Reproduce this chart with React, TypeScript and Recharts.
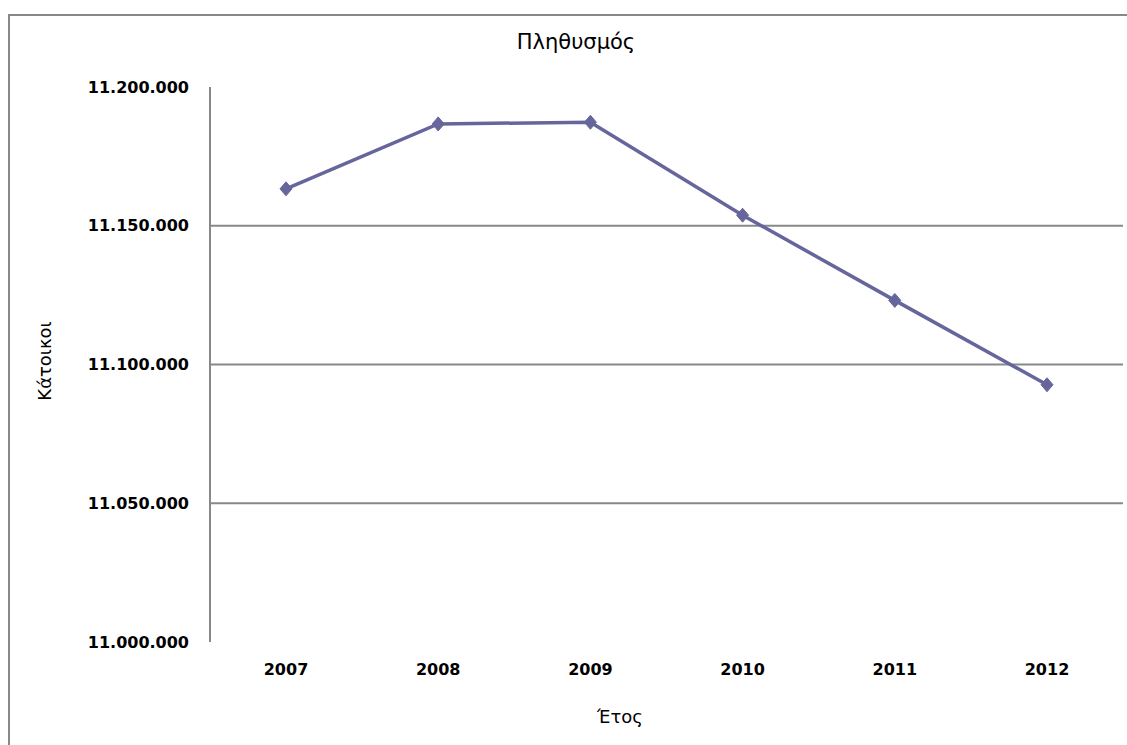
import { CartesianGrid, Line, LineChart, XAxis, YAxis } from "recharts";

const years = ["2007", "2008", "2009", "2010", "2011", "2012"];
const population = [11163300, 11186700, 11187300, 11153800, 11123100, 11092700];
const yTicks = [11000000, 11050000, 11100000, 11150000, 11200000];

const data = years.map((year, i) => ({ year, value: population[i] }));

const LINE = "#66669c";
const GRID = "#888888";
const FONT = "'DejaVu Sans', sans-serif";

const fmt = (v: number) => v.toLocaleString("de-DE");

function Diamond(props: any) {
  const { cx, cy } = props;
  if (cx == null || cy == null) return null;
  return (
    <polygon
      points={`${cx},${cy - 7} ${cx + 6},${cy} ${cx},${cy + 7} ${cx - 6},${cy}`}
      fill={LINE}
      stroke={LINE}
      strokeWidth={1}
    />
  );
}

export default function App() {
  return (
    <div style={{ position: "relative", width: 1127, height: 745, overflow: "hidden", background: "#fff" }}>
      <style>{"html,body{margin:0;overflow:hidden}"}</style>
      <div
        style={{
          position: "absolute",
          left: 8,
          top: 14,
          width: 1200,
          height: 800,
          borderTop: `2px solid ${GRID}`,
          borderLeft: `2px solid ${GRID}`,
        }}
      />
      <div
        style={{
          position: "absolute",
          left: 0,
          width: 1152,
          top: 30,
          textAlign: "center",
          fontFamily: FONT,
          fontSize: 21,
          color: "#000",
        }}
      >
        Πληθυσμός
      </div>
      <div
        style={{
          position: "absolute",
          left: 44,
          top: 361,
          transform: "translate(-50%, -50%) rotate(-90deg)",
          fontFamily: FONT,
          fontSize: 18,
          whiteSpace: "nowrap",
        }}
      >
        Κάτοικοι
      </div>
      <div
        style={{
          position: "absolute",
          left: 620,
          top: 716,
          transform: "translate(-50%, -50%)",
          fontFamily: FONT,
          fontSize: 18,
          whiteSpace: "nowrap",
        }}
      >
        Έτος
      </div>
      <div style={{ position: "absolute", left: 0, top: 0 }}>
        <LineChart width={1127} height={745} data={data} margin={{ top: 87, right: 4, bottom: 73, left: 0 }}>
          <CartesianGrid stroke={GRID} strokeWidth={2} vertical={false} horizontalValues={[11050000, 11100000, 11150000]} />
          <XAxis
            dataKey="year"
            height={30}
            padding={{ left: 76, right: 76 }}
            axisLine={false}
            tickLine={false}
            tickMargin={16}
            tick={{ fill: "#000", fontSize: 16, fontWeight: "bold", fontFamily: FONT }}
          />
          <YAxis
            width={210}
            domain={[11000000, 11200000]}
            ticks={yTicks}
            tickFormatter={fmt}
            axisLine={{ stroke: GRID, strokeWidth: 2 }}
            tickLine={false}
            tickMargin={15}
            tick={{ fill: "#000", fontSize: 16, fontWeight: "bold", fontFamily: FONT }}
          />
          <Line
            type="linear"
            dataKey="value"
            stroke={LINE}
            strokeWidth={3.5}
            dot={<Diamond />}
            activeDot={false}
            isAnimationActive={false}
          />
        </LineChart>
      </div>
    </div>
  );
}
